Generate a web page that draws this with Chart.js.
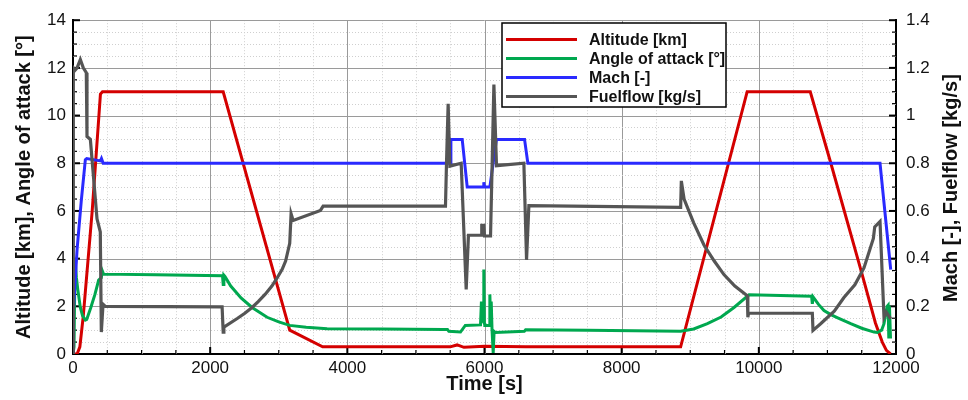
<!DOCTYPE html>
<html>
<head>
<meta charset="utf-8">
<script src="https://cdn.jsdelivr.net/npm/chart.js@4.4.1/dist/chart.umd.min.js"></script>
<style>
  html, body { margin: 0; padding: 0; background: #fff; }
</style>
</head>
<body>
<canvas id="chart" width="968" height="400"></canvas>
<script>
// time [s] / value pairs
const altT = [0, 60, 100, 150, 280, 400, 430, 2190, 3160, 3640, 5500, 5600, 5700, 6000, 6600, 8860, 9830, 10750, 11050, 11500, 11700, 11800, 11860, 11920];
const altV = [0, 0, 0.3, 1.6, 6.0, 10.9, 11, 11, 1.0, 0.3, 0.3, 0.38, 0.28, 0.33, 0.3, 0.3, 11, 11, 8, 3.4, 1.3, 0.5, 0.15, 0];

const aoaT = [0, 15, 30, 50, 70, 107, 140, 180, 200, 260, 320, 374, 413, 425, 445, 1200, 2180, 2190, 2200, 2215, 2300, 2450, 2611, 2830, 3000, 3160, 3400, 3705, 4500, 5406, 5460, 5480, 5650, 5720, 5942, 5955, 5966, 5985, 5990, 5998, 6005, 6070, 6078, 6090, 6098, 6110, 6127, 6140, 6161, 6580, 6600, 7500, 8860, 9050, 9250, 9450, 9638, 9857, 10770, 10780, 10790, 10870, 10950, 11050, 11150, 11340, 11500, 11680, 11730, 11790, 11825, 11870, 11885, 11895, 11905, 11920];
const aoaV = [0, 0.3, 4.0, 3.2, 2.7, 1.95, 1.6, 1.42, 1.45, 1.95, 2.5, 3.1, 3.2, 3.5, 3.35, 3.32, 3.28, 2.92, 3.3, 3.25, 2.85, 2.35, 1.95, 1.54, 1.35, 1.2, 1.12, 1.06, 1.05, 1.03, 1.03, 0.95, 0.92, 1.2, 1.22, 2.2, 1.4, 1.5, 3.54, 1.3, 1.2, 1.2, 2.5, 1.3, 2.2, 1.0, 0.04, 0.95, 0.9, 0.95, 1.02, 1.0, 0.95, 1.05, 1.27, 1.55, 1.95, 2.48, 2.42, 2.1, 2.4, 2.08, 1.82, 1.65, 1.52, 1.27, 1.08, 0.92, 0.9, 1.0, 1.27, 2.0, 2.05, 0.65, 2.0, 0.65];

const machT = [0, 5, 60, 120, 180, 200, 400, 415, 440, 5500, 5510, 5675, 5748, 5980, 5990, 6000, 6078, 6175, 6584, 6632, 11767, 11923];
const machV = [0, 0.18, 0.44, 0.64, 0.815, 0.82, 0.81, 0.82, 0.8, 0.8, 0.9, 0.9, 0.7, 0.7, 0.72, 0.7, 0.7, 0.9, 0.9, 0.8, 0.8, 0.354];

const fuelT = [0, 5, 30, 60, 107, 150, 194, 204, 253, 350, 398, 413, 438, 472, 2174, 2190, 2200, 2400, 2500, 2611, 2700, 2800, 2900, 2976, 3050, 3100, 3160, 3180, 3210, 3608, 3647, 5431, 5446, 5470, 5495, 5660, 5733, 5766, 5950, 5960, 5990, 6000, 6024, 6088, 6137, 6175, 6574, 6613, 6647, 8860, 8870, 8910, 9050, 9200, 9350, 9491, 9650, 9832, 9840, 9850, 10780, 10790, 10901, 11100, 11241, 11400, 11533, 11670, 11690, 11767, 11825, 11860, 11923];
const fuelV = [0, 1.2, 1.19, 1.2, 1.235, 1.2, 1.18, 0.912, 0.9, 0.567, 0.512, 0.092, 0.209, 0.2, 0.198, 0.092, 0.113, 0.15, 0.17, 0.195, 0.22, 0.25, 0.285, 0.319, 0.355, 0.39, 0.464, 0.588, 0.56, 0.602, 0.62, 0.62, 0.8, 1.049, 0.788, 0.8, 0.271, 0.498, 0.498, 0.54, 0.54, 0.495, 0.495, 0.495, 1.13, 0.79, 0.8, 0.395, 0.622, 0.615, 0.726, 0.65, 0.55, 0.457, 0.39, 0.333, 0.285, 0.244, 0.154, 0.171, 0.171, 0.099, 0.127, 0.18, 0.237, 0.29, 0.361, 0.485, 0.533, 0.556, 0.154, 0.175, 0.147];

const seriesNames = ["Altitude [km]", "Angle of attack [°]", "Mach [-]", "Fuelflow [kg/s]"];
const seriesColors = ["#d40000", "#00a84f", "#2a2aff", "#555555"];

const xLabels = [0, 2000, 4000, 6000, 8000, 10000, 12000];
const yLeftLabels = [0, 2, 4, 6, 8, 10, 12, 14];
const yRightLabels = ["0", "0.2", "0.4", "0.6", "0.8", "1", "1.2", "1.4"];
const rightTitle = "Mach [-], Fuelflow [kg/s]";

const FONT = "'Liberation Sans', Arial, sans-serif";

const toPoints = (ts, vs) => ts.map((t, i) => ({ x: t, y: vs[i] }));

const isMajorX = v => Math.round(v) % 2000 === 0;
const isMajorY = v => Math.round(v * 10) % 20 === 0;

// gridlines + inside tick marks, drawn under the lines
const gridPlugin = {
  id: "gridPlugin",
  beforeDatasetsDraw(chart) {
    const { ctx, chartArea: a, scales } = chart;
    const x = scales.x, y = scales.y;
    ctx.save();
    x.ticks.forEach(t => {
      const px = Math.round(x.getPixelForValue(t.value)) + 0.5;
      if (t.value <= 0 || t.value >= 12000) return;
      ctx.beginPath();
      if (isMajorX(t.value)) {
        ctx.setLineDash([]);
        ctx.strokeStyle = "#9a9a9a";
      } else {
        ctx.setLineDash([1, 2]);
        ctx.strokeStyle = "#cfcfcf";
      }
      ctx.lineWidth = 1;
      ctx.moveTo(px, a.top);
      ctx.lineTo(px, a.bottom);
      ctx.stroke();
    });
    y.ticks.forEach(t => {
      if (t.value <= 0) return;
      const py = Math.round(y.getPixelForValue(t.value)) + 0.5;
      ctx.beginPath();
      if (isMajorY(t.value)) {
        ctx.setLineDash([]);
        ctx.strokeStyle = "#9a9a9a";
      } else {
        ctx.setLineDash([1, 2]);
        ctx.strokeStyle = "#cfcfcf";
      }
      ctx.lineWidth = 1;
      ctx.moveTo(a.left, py);
      ctx.lineTo(a.right, py);
      ctx.stroke();
    });

    // inner tick marks
    ctx.setLineDash([]);
    ctx.strokeStyle = "#000";
    x.ticks.forEach(t => {
      const px = x.getPixelForValue(t.value);
      const major = isMajorX(t.value);
      ctx.lineWidth = major ? 2 : 1.2;
      ctx.beginPath();
      ctx.moveTo(px, a.bottom);
      ctx.lineTo(px, a.bottom - (major ? 7 : 4));
      ctx.stroke();
    });
    y.ticks.forEach(t => {
      const py = y.getPixelForValue(t.value);
      const major = isMajorY(t.value);
      ctx.lineWidth = major ? 2 : 1.2;
      ctx.beginPath();
      ctx.moveTo(a.left, py);
      ctx.lineTo(a.left + (major ? 7 : 4), py);
      ctx.stroke();
    });
    scales.y1.ticks.forEach(t => {
      const py = scales.y1.getPixelForValue(t.value);
      const major = Math.round(t.value * 100) % 20 === 0;
      ctx.lineWidth = major ? 2 : 1.2;
      ctx.beginPath();
      ctx.moveTo(a.right, py);
      ctx.lineTo(a.right - (major ? 7 : 4), py);
      ctx.stroke();
    });
    ctx.restore();
  }
};

// legend box inside the plot + right axis title reading bottom-to-top
const legendPlugin = {
  id: "legendPlugin",
  afterDatasetsDraw(chart) {
    const { ctx, chartArea: a } = chart;
    ctx.save();
    ctx.fillStyle = "#fff";
    ctx.fillRect(502, 23, 224, 84);
    ctx.strokeStyle = "#000";
    ctx.lineWidth = 1.5;
    ctx.strokeRect(502, 23, 224, 84);
    ctx.font = "bold 16px " + FONT;
    ctx.textBaseline = "middle";
    seriesNames.forEach((name, i) => {
      const cy = 39.5 + i * 19;
      ctx.strokeStyle = seriesColors[i];
      ctx.lineWidth = 3;
      ctx.beginPath();
      ctx.moveTo(506, cy);
      ctx.lineTo(577, cy);
      ctx.stroke();
      ctx.fillStyle = "#111";
      ctx.fillText(name, 589, cy + 1);
    });
    ctx.restore();

    ctx.save();
    ctx.translate(951, (a.top + a.bottom) / 2 + 1);
    ctx.rotate(-Math.PI / 2);
    ctx.font = "bold 20px " + FONT;
    ctx.fillStyle = "#111";
    ctx.textAlign = "center";
    ctx.textBaseline = "middle";
    ctx.fillText(rightTitle, 0, 0);
    ctx.restore();
  }
};

const lineDataset = (i, ts, vs, axis, order) => ({
  label: seriesNames[i],
  data: toPoints(ts, vs),
  yAxisID: axis,
  borderColor: seriesColors[i],
  borderWidth: i === 3 ? 3.2 : 3,
  pointRadius: 0,
  tension: 0,
  fill: false,
  order
});

new Chart(document.getElementById("chart"), {
  type: "line",
  data: {
    datasets: [
      lineDataset(0, altT, altV, "y", 3),
      lineDataset(1, aoaT, aoaV, "y", 2),
      lineDataset(2, machT, machV, "y1", 1),
      lineDataset(3, fuelT, fuelV, "y1", 0)
    ]
  },
  options: {
    responsive: false,
    devicePixelRatio: 1,
    animation: false,
    layout: { padding: { top: 15, left: 0, right: 0, bottom: 0 } },
    plugins: {
      legend: { display: false },
      tooltip: { enabled: false }
    },
    scales: {
      x: {
        type: "linear",
        min: 0,
        max: 12000,
        afterFit: s => { s.height = 46; },
        grid: { display: false, drawTicks: false },
        border: { display: true, color: "#000", width: 2 },
        ticks: {
          stepSize: 500,
          autoSkip: false,
          maxRotation: 0,
          padding: 4,
          color: "#111",
          font: { family: FONT, size: 17 },
          callback: v => (xLabels.includes(v) ? String(v) : "")
        },
        title: {
          display: true,
          text: "Time [s]",
          color: "#111",
          font: { family: FONT, size: 20, weight: "bold" },
          padding: { top: 0, bottom: 4 }
        }
      },
      y: {
        position: "left",
        min: 0,
        max: 14,
        afterFit: s => { s.width = 73; },
        grid: { display: false, drawTicks: false },
        border: { display: true, color: "#000", width: 2 },
        ticks: {
          stepSize: 0.5,
          autoSkip: false,
          padding: 7,
          color: "#111",
          font: { family: FONT, size: 17 },
          callback: v => (yLeftLabels.includes(v) ? String(v) : "")
        },
        title: {
          display: true,
          text: "Altitude [km], Angle of attack [°]",
          color: "#111",
          font: { family: FONT, size: 20, weight: "bold" },
          padding: { top: 12, bottom: 0 }
        }
      },
      y1: {
        position: "right",
        min: 0,
        max: 1.4,
        afterFit: s => { s.width = 72; },
        grid: { display: false, drawTicks: false },
        border: { display: true, color: "#000", width: 2 },
        ticks: {
          stepSize: 0.05,
          autoSkip: false,
          padding: 10,
          color: "#111",
          font: { family: FONT, size: 17 },
          callback: v => {
            const k = Math.round(v * 100);
            return k % 20 === 0 ? yRightLabels[k / 20] : "";
          }
        },
        title: { display: false }
      }
    }
  },
  plugins: [gridPlugin, legendPlugin]
});
</script>
</body>
</html>
